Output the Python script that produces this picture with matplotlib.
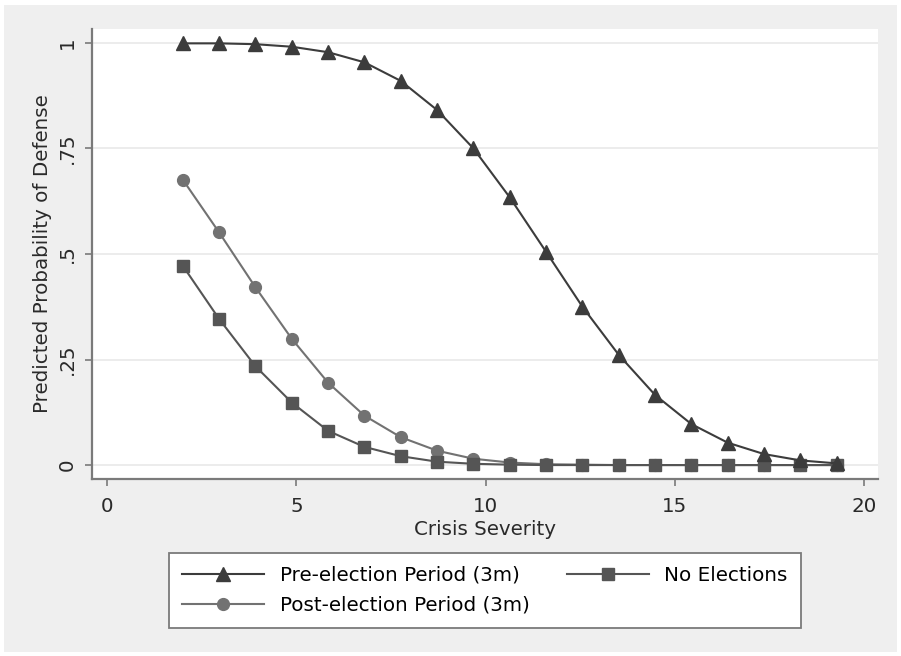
import numpy as np
import matplotlib.pyplot as plt
from matplotlib.patches import Rectangle

# crisis severity grid
severity = [2.0, 2.96, 3.92, 4.88, 5.84, 6.8, 7.76, 8.72, 9.68, 10.64,
            11.6, 12.56, 13.52, 14.48, 15.44, 16.4, 17.36, 18.32, 19.28]

pre_election = [0.999, 0.999, 0.997, 0.991, 0.978, 0.954, 0.910, 0.841, 0.750, 0.634,
                0.505, 0.375, 0.261, 0.166, 0.097, 0.053, 0.026, 0.011, 0.004]
post_election = [0.676, 0.551, 0.421, 0.299, 0.195, 0.117, 0.066, 0.034, 0.015, 0.006,
                 0.002, 0.001, 0.0, 0.0, 0.0, 0.0, 0.0, 0.0, 0.0]
no_elections = [0.472, 0.346, 0.234, 0.148, 0.081, 0.043, 0.021, 0.008, 0.003, 0.001,
                0.0, 0.0, 0.0, 0.0, 0.0, 0.0, 0.0, 0.0, 0.0]

y_ticks = [0, 0.25, 0.5, 0.75, 1]
y_labels = ['0', '.25', '.5', '.75', '1']
x_ticks = [0, 5, 10, 15, 20]

plt.rcParams['font.family'] = ['DejaVu Sans']
FS = 14.3

W, H = 901, 656
fig = plt.figure(figsize=(W / 100, H / 100), dpi=100, facecolor='white')
fig.patches.append(Rectangle((4 / W, 4 / H), (W - 8) / W, (H - 9) / H,
                             transform=fig.transFigure, facecolor='#efefef',
                             edgecolor='none', zorder=-10))

ax = fig.add_axes([92 / W, 1 - 479 / H, (878 - 92) / W, (479 - 29) / H])
ax.set_facecolor('white')

ax.plot(severity, pre_election, color='#3c3c3c', lw=1.5, marker='^', ms=10,
        label='Pre-election Period (3m)', zorder=3)
ax.plot(severity, post_election, color='#727272', lw=1.5, marker='o', ms=8.5,
        label='Post-election Period (3m)', zorder=2)
ax.plot(severity, no_elections, color='#555555', lw=1.5, marker='s', ms=8,
        label='No Elections', zorder=2)

ax.set_xlim(-0.4, 20.37)
ax.set_ylim(-0.033, 1.033)
ax.set_xticks(x_ticks)
ax.set_yticks(y_ticks)
ax.set_yticklabels(y_labels, rotation=90, va='center')
ax.grid(axis='y', color='#e9e9e9', lw=1.2)
ax.set_axisbelow(True)

for s in ['top', 'right']:
    ax.spines[s].set_visible(False)
for s in ['left', 'bottom']:
    ax.spines[s].set_color('#7a7a7a')
    ax.spines[s].set_linewidth(1.6)
ax.tick_params(colors='#7a7a7a', width=1.2, length=5, labelsize=FS,
               labelcolor='#2a2a2a', pad=6)
ax.tick_params(axis='x', pad=8)

ax.set_xlabel('Crisis Severity', fontsize=FS, color='#2a2a2a', labelpad=3)
ax.set_ylabel('Predicted Probability of Defense', fontsize=FS, color='#2a2a2a',
              labelpad=4)

leg = fig.legend(loc='upper center', bbox_to_anchor=(485 / W, 1 - 553 / H),
                 ncol=2, fontsize=FS, handlelength=4.1, handletextpad=0.8,
                 columnspacing=1.9, frameon=True, fancybox=False, framealpha=1,
                 borderpad=0.65, labelspacing=0.55, borderaxespad=0)
leg.get_frame().set_edgecolor('#7a7a7a')
leg.get_frame().set_linewidth(1.3)

fig.savefig('out.png', dpi=100, facecolor=fig.get_facecolor())
